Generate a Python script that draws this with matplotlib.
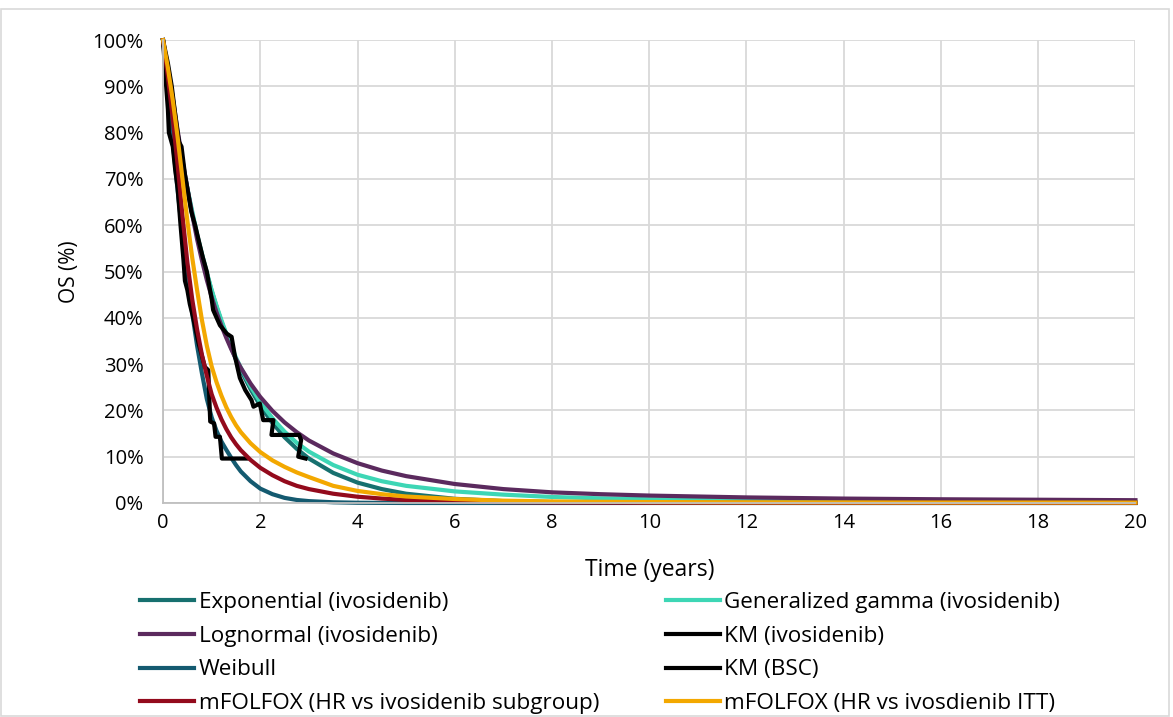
import numpy as np
import matplotlib
matplotlib.use("Agg")
import matplotlib.pyplot as plt
from matplotlib.ticker import FuncFormatter, MultipleLocator
from matplotlib.patches import Rectangle

plt.rcParams['font.family'] = ['Open Sans', 'DejaVu Sans']

''' time points (years) for the fitted curves '''
t_fit = [0, 0.1, 0.2, 0.3, 0.4, 0.5, 0.6, 0.7, 0.8, 0.9, 1.0, 1.1, 1.2, 1.3, 1.4, 1.5, 1.6, 1.8,
         2.0, 2.25, 2.5, 2.75, 3.0, 3.5, 4, 4.5, 5, 6, 7, 8, 9, 10, 12, 14, 16, 18, 20]

''' OS (%) read off the chart '''
os_exponential = [100, 92.5, 85.5, 79.1, 73.2, 67.7, 62.6, 57.9, 53.6, 49.6, 45.8, 42.4, 39.2, 36.3,
                  33.6, 31.0, 28.7, 24.6, 21.0, 17.3, 14.2, 11.7, 9.6, 6.5, 4.4, 3.0, 2.0, 0.9,
                  0.4, 0.2, 0.09, 0.04, 0.01, 0, 0, 0, 0]
os_gengamma = [100, 93, 86, 79.5, 73.5, 68, 63, 58, 53.8, 49.8, 46, 42.6, 39.5, 36.6,
               34, 31.4, 29.2, 25.2, 21.8, 18.3, 15.4, 13.0, 11.1, 8.2, 6.1, 4.7, 3.7, 2.5,
               1.8, 1.3, 1.0, 0.8, 0.55, 0.4, 0.3, 0.24, 0.2]
os_lognormal = [100, 94, 87.5, 80.5, 74, 68, 62.3, 57, 52.4, 48.2, 44.5, 41.2, 38.3, 35.7,
                33.3, 31.1, 29.2, 25.8, 22.9, 19.9, 17.4, 15.3, 13.5, 10.7, 8.6, 7.0, 5.8, 4.1,
                3.0, 2.3, 1.9, 1.6, 1.2, 0.95, 0.8, 0.7, 0.6]
os_weibull = [100, 89, 78, 67.5, 58, 49.5, 41, 34, 28, 22.5, 18.5, 15.6, 13.3, 11.5,
              9.8, 8.2, 6.8, 4.7, 3.1, 1.9, 1.1, 0.65, 0.4, 0.15, 0.05, 0.02, 0, 0,
              0, 0, 0, 0, 0, 0, 0, 0, 0]
os_mfolfox_sub = [100, 92, 83, 73, 62, 52, 44, 37.5, 32, 27.5, 23.5, 20.6, 18.1, 16.0,
                  14.2, 12.7, 11.4, 9.3, 7.6, 6.0, 4.7, 3.7, 3.0, 2.0, 1.35, 0.95, 0.65, 0.33,
                  0.18, 0.1, 0.07, 0.05, 0.03, 0.02, 0.02, 0.01, 0.01]
os_mfolfox_itt = [100, 94, 87, 79, 70, 61, 53, 46, 39.5, 34, 29.5, 26.1, 23.2, 20.7,
                  18.6, 16.8, 15.3, 12.9, 11.0, 9.2, 7.8, 6.6, 5.6, 3.7, 2.6, 1.9, 1.4, 0.85,
                  0.5, 0.33, 0.25, 0.2, 0.15, 0.12, 0.1, 0.1, 0.08]

''' digitised Kaplan-Meier curves '''
km_ivo_t = [0, 0.1, 0.18, 0.25, 0.3, 0.33, 0.38, 0.45, 0.5, 0.58, 0.66, 0.75, 0.82, 0.9, 1.0,
            1.03, 1.17, 1.31, 1.41, 1.48, 1.58, 1.69, 1.82, 1.86, 1.99, 2.06, 2.27, 2.23,
            2.80, 2.84, 2.78, 2.93]
km_ivo_os = [100, 95, 90, 84, 80, 78, 77, 71, 68, 63, 60, 56, 53, 50, 44,
             41.7, 38.4, 36.6, 35.9, 31.6, 27.0, 24.4, 22.2, 20.8, 21.5, 17.9, 17.9, 14.7,
             14.7, 13.6, 10.0, 9.6]
km_bsc_t = [0, 0.05, 0.1, 0.12, 0.2, 0.25, 0.3, 0.36, 0.4, 0.42, 0.45, 0.5, 0.55, 0.62,
            0.73, 0.86, 0.93, 0.97, 1.05, 1.08, 1.17, 1.21, 1.72]
km_bsc_os = [100, 92, 85, 80, 77, 72, 68, 60, 55, 52.5, 48, 46, 43, 40,
             34.5, 29.4, 28.7, 17.6, 17.2, 14.3, 14.3, 9.6, 9.6]

labels = ["Exponential (ivosidenib)", "Generalized gamma (ivosidenib)", "Lognormal (ivosidenib)",
          "KM (ivosidenib)", "Weibull", "KM (BSC)",
          "mFOLFOX (HR vs ivosidenib subgroup)", "mFOLFOX (HR vs ivosdienib ITT)"]

fig = plt.figure(figsize=(11.73, 7.17), dpi=100)
ax = fig.add_axes([0.139, 0.2985, 0.829, 0.6455])

lw = 3.0
h = {}
h[0], = ax.plot(t_fit, os_exponential, color='#17706F', lw=lw, clip_on=False)
h[1], = ax.plot(t_fit, os_gengamma, color='#3DD6B5', lw=lw, clip_on=False)
h[2], = ax.plot(t_fit, os_lognormal, color='#5B2A5E', lw=lw, clip_on=False)
h[3], = ax.plot(km_ivo_t, km_ivo_os, color='black', lw=lw, clip_on=False)
h[4], = ax.plot(t_fit, os_weibull, color='#145A70', lw=lw, clip_on=False)
h[5], = ax.plot(km_bsc_t, km_bsc_os, color='black', lw=lw, clip_on=False)
h[6], = ax.plot(t_fit, os_mfolfox_sub, color='#930A1C', lw=lw, clip_on=False)
h[7], = ax.plot(t_fit, os_mfolfox_itt, color='#F3A800', lw=lw, clip_on=False)

ax.set_xlim(0, 20)
ax.set_ylim(0, 100)
ax.xaxis.set_major_locator(MultipleLocator(2))
ax.yaxis.set_major_locator(MultipleLocator(10))
ax.yaxis.set_major_formatter(FuncFormatter(lambda v, p: f"{v:.0f}%"))
ax.grid(True, color='#D9D9D9', lw=1.3)
ax.set_axisbelow(True)
for s in ['top', 'right']:
    ax.spines[s].set_visible(False)
for s in ['left', 'bottom']:
    ax.spines[s].set_color('#BFBFBF')
    ax.spines[s].set_linewidth(1.3)
ax.tick_params(length=0, labelsize=14.5, colors='black')
ax.tick_params(axis='y', pad=14)
ax.tick_params(axis='x', pad=7)

ax.set_xlabel("Time (years)", fontsize=16.5, labelpad=18)
ax.set_ylabel("OS (%)", fontsize=15, labelpad=9)

# legend is filled column by column
order = [0, 2, 4, 6, 1, 3, 5, 7]
fig.legend([h[i] for i in order], [labels[i] for i in order], ncol=2,
           loc='upper left', bbox_to_anchor=(0.1194, 0.174), frameon=False,
           fontsize=16.2, handlelength=2.4, handletextpad=0.2, columnspacing=2.98,
           labelspacing=0.56, borderaxespad=0, borderpad=0)

fig.patches.append(Rectangle((0.001, 0.001), 0.996, 0.987, transform=fig.transFigure,
                             fill=False, edgecolor='#D9D9D9', lw=1.2))

fig.savefig("out.png", dpi=100)
